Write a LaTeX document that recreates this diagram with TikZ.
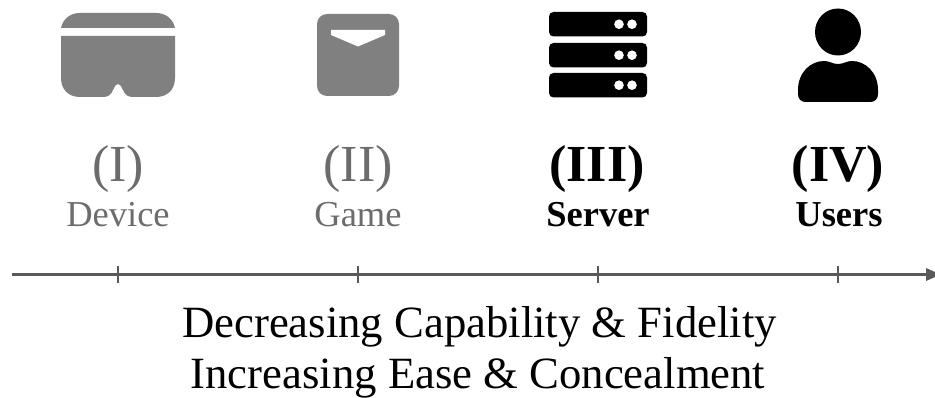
\documentclass[tikz,border=0pt]{standalone}
\usepackage{fontspec}
\setmainfont{Liberation Serif}
\definecolor{icongray}{RGB}{128,128,128}
\definecolor{axisgray}{RGB}{89,89,89}
\definecolor{labelgray}{RGB}{108,108,108}
\tikzset{
  bigfaint/.style={font=\fontsize{52}{52}\selectfont,text=labelgray,inner sep=0pt,anchor=base},
  smallfaint/.style={font=\fontsize{36.5}{36.5}\selectfont,text=labelgray,inner sep=0pt,anchor=base},
  bigbold/.style={font=\fontsize{52}{52}\selectfont\bfseries,text=black,inner sep=0pt,anchor=base},
  smallbold/.style={font=\fontsize{36.5}{36.5}\selectfont\bfseries,text=black,inner sep=0pt,anchor=base},
  caption/.style={font=\fontsize{44.7}{44.7}\selectfont,text=black,inner sep=0pt,anchor=base},
  axisline/.style={draw=axisgray,line width=3.2pt},
  ticks/.style={draw=axisgray,line width=2.4pt},
  rack/.style={fill=black,rounded corners=4.5pt},
  dot/.style={fill=white}
}
\begin{document}
\begin{tikzpicture}[x=1pt,y=-1pt]
\useasboundingbox (0,0) rectangle (935,398);
% device icon
\fill[icongray] (61,28) .. controls (63,19) and (70,13) .. (80,13) -- (156,13) .. controls (166,13) and (173,19) .. (175,28) -- cycle;
\fill[icongray] (61,36) -- (175,36) -- (175,78) .. controls (175,90) and (167,97) .. (156,97) -- (133,97)
  .. controls (128,97) and (125,95) .. (123,90) .. controls (121,86) and (120,84) .. (118,84)
  .. controls (116,84) and (115,86) .. (113,90) .. controls (111,95) and (108,97) .. (103,97)
  -- (80,97) .. controls (69,97) and (61,90) .. (61,78) -- cycle;
% game icon
\fill[icongray,rounded corners=10pt] (317,14) rectangle (399,96);
\fill[white] (331,30) -- (385,30) -- (385,35) -- (358,46.5) -- (331,35) -- cycle;
% server icon
\foreach \t in {12,43,73}{
  \fill[rack] (549,\t) rectangle (647,\t+24.5);
  \fill[dot] (619,\t+12.2) circle[radius=4.8];
  \fill[dot] (632,\t+12.2) circle[radius=4.8];
}
% user icon
\fill[black] (838,32) ellipse[x radius=23,y radius=23.5];
\fill[black] (798,90) .. controls (798,72) and (811,61) .. (824,61) .. controls (830,61) and (832,64) .. (838,64)
  .. controls (844,64) and (846,61) .. (852,61) .. controls (865,61) and (878,72) .. (878,90)
  -- (878,94) .. controls (878,99) and (875,102) .. (870,102) -- (806,102) .. controls (801,102) and (798,99) .. (798,94) -- cycle;
% labels
\node[bigfaint] (l1) at (118,182) {(I)};
\node[smallfaint] (d1) at (118,226.5) {Device};
\node[bigfaint] (l2) at (358,182) {(II)};
\node[smallfaint] (d2) at (358,226.5) {Game};
\node[bigbold] (l3) at (597,182) {(III)};
\node[smallbold] (d3) at (598,226.5) {Server};
\node[bigbold] (l4) at (838,182) {(IV)};
\node[smallbold] (d4) at (839,226.5) {Users};
% axis
\coordinate (s) at (12,274.4);
\coordinate (e) at (926,274.4);
\draw[axisline] (s) -- (e);
\fill[axisgray] (926,268) -- (935,272) -- (935,277) -- (926,281) -- cycle;
\foreach \x in {118,358,598,838}{\draw[ticks] (\x,266) -- (\x,283);}
\node[caption] (c1) at (479.5,337.5) {Decreasing Capability \& Fidelity};
\node[caption] (c2) at (478,388) {Increasing Ease \& Concealment};
\end{tikzpicture}
\end{document}
